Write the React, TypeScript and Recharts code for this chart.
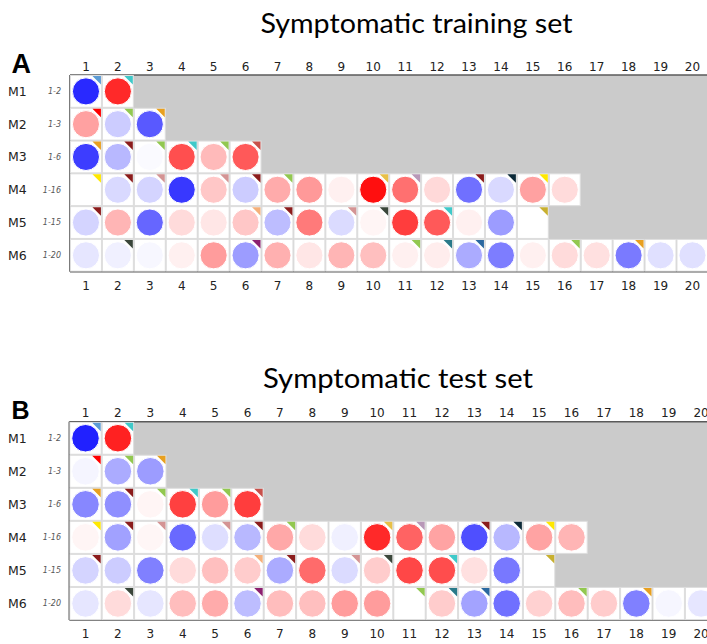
import React from 'react';
import { ScatterChart, Scatter, XAxis, YAxis, CartesianGrid } from 'recharts';

// ---------- categories / ticks ----------
const colTicks = [1, 2, 3, 4, 5, 6, 7, 8, 9, 10, 11, 12, 13, 14, 15, 16, 17, 18, 19, 20];
const rowTicks = [1, 2, 3, 4, 5, 6];
const rowNames = ['M1', 'M2', 'M3', 'M4', 'M5', 'M6'];
const rowRanges = ['1-2', '1-3', '1-6', '1-16', '1-15', '1-20'];

// ---------- values (positive = red, negative = blue) : training set ----------
const trainM1 = [-0.84, 0.84];
const trainM2 = [0.37, -0.2, -0.65];
const trainM3 = [-0.76, -0.28, -0.02, 0.69, 0.27, 0.65];
const trainM4 = [0, -0.15, -0.17, -0.78, 0.22, -0.2, 0.33, 0.4, 0.06, 0.94, 0.56, 0.15, -0.56, -0.15, 0.37, 0.14];
const trainM5 = [-0.17, 0.29, -0.6, 0.14, 0.1, 0.22, -0.26, 0.52, -0.14, 0.04, 0.76, 0.65, 0.06, -0.39, 0];
const trainM6 = [-0.1, -0.06, -0.03, 0.06, 0.39, -0.39, 0.31, 0.1, 0.29, 0.25, 0.06, 0.07, -0.33, -0.51, 0.06, 0.14, 0.12, -0.52, -0.12, -0.12];

// ---------- values : test set ----------
const testM1 = [-0.87, 0.87];
const testM2 = [-0.04, -0.33, -0.39];
const testM3 = [-0.47, -0.44, 0.04, 0.75, 0.39, 0.76];
const testM4 = [0.04, -0.37, 0.035, -0.59, -0.13, -0.28, 0.34, 0.14, -0.06, 0.84, 0.61, 0.36, -0.69, -0.28, 0.36, 0.29];
const testM5 = [-0.17, -0.2, -0.5, 0.14, 0.25, 0.2, -0.33, 0.58, -0.14, 0.2, 0.72, 0.7, 0.12, -0.53, 0];
const testM6 = [-0.1, 0.14, -0.1, 0.26, 0.33, -0.26, 0.26, 0.25, 0.39, 0.39, 0, 0.2, -0.36, -0.56, 0.18, 0.26, 0.2, -0.5, -0.035, -0.1];

// ---------- corner markers (shared by both sets) ----------
const markM1 = ['lb', 'cy'];
const markM2 = ['r', 'g', 'o'];
const markM3 = ['o', 'dr', 'g', 'cy', 'g', 'ir'];
const markM4 = ['y', 'dr', 'ro', '', 'ro', 'dr', 'g', '', '', 'go', 'mv', '', 'dr', 'nv', 'y', ''];
const markM5 = ['dr', '', '', '', '', 'lo', 'dr', '', 'ro', 'dg', '', 'cy', '', '', 'ol'];
const markM6 = ['', 'dg', '', '', '', 'pu', '', '', '', '', 'g', 'tl', 'sb', '', '', 'g', '', 'o', '', ''];

const markColors: Record<string, string> = {
  lb: '#5b9bd5',
  cy: '#3fc9c9',
  r: '#ff0000',
  g: '#92c850',
  o: '#e8a020',
  dr: '#8b1c1c',
  ir: '#c8504a',
  y: '#ffe800',
  ro: '#d49494',
  go: '#e8c048',
  mv: '#b898b8',
  nv: '#0c2a38',
  lo: '#f5b07a',
  dg: '#3a463a',
  ol: '#c8b030',
  pu: '#8c2070',
  tl: '#2a7a8a',
  sb: '#2a68a0',
};

const trainRows = [trainM1, trainM2, trainM3, trainM4, trainM5, trainM6];
const testRows = [testM1, testM2, testM3, testM4, testM5, testM6];
const markRows = [markM1, markM2, markM3, markM4, markM5, markM6];

const colorOf = (v: number) => {
  const t = Math.round(255 * (1 - Math.min(1, Math.abs(v))));
  return v >= 0 ? `rgb(255,${t},${t})` : `rgb(${t},${t},255)`;
};

const buildData = (rows: number[][]) =>
  rows.flatMap((vals, ri) =>
    vals.map((v, ci) => ({ x: colTicks[ci], y: rowTicks[ri], v, mark: markRows[ri][ci] || '' }))
  );

const makeShape = (cw: number, ch: number) => (props: any) => {
  const { cx, cy, payload } = props;
  if (cx == null || cy == null) return <g />;
  const left = cx - cw / 2;
  const top = cy - ch / 2;
  const right = cx + cw / 2;
  const r = 0.425 * Math.min(cw, ch);
  const leg = 8.5;
  const mc = payload.mark ? markColors[payload.mark] : null;
  return (
    <g>
      <rect x={left + 0.5} y={top + 0.5} width={cw - 1} height={ch - 1} fill="#ffffff" stroke="#dedede" strokeWidth={1} />
      {mc && (
        <path d={`M${right - 1 - leg},${top + 1} L${right - 1},${top + 1} L${right - 1},${top + 1 + leg} Z`} fill={mc} />
      )}
      <circle cx={cx} cy={cy} r={r} fill={colorOf(payload.v)} stroke="#ffffff" strokeWidth={1} />
    </g>
  );
};

type PanelCfg = {
  top: number;
  width: number;
  height: number;
  marginTop: number;
  marginRight: number;
  marginBottom: number;
  yAxisWidth: number;
  topAxisH: number;
  bottomAxisH: number;
  topOffset: number;
  bottomOffset: number;
};

const RowTick = (props: any) => {
  const { y, payload } = props;
  const idx = rowTicks.indexOf(payload.value);
  return (
    <g>
      <text x={8} y={y} dy="0.36em" fontFamily="DejaVu Sans" fontSize={12.5} fill="#222">
        {rowNames[idx]}
      </text>
      <text x={61} y={y} dy="0.36em" textAnchor="end" fontFamily="DejaVu Sans" fontStyle="italic" fontSize={8} fill="#555">
        {rowRanges[idx]}
      </text>
    </g>
  );
};

const Panel = ({ rows, cfg }: { rows: number[][]; cfg: PanelCfg }) => {
  const plotW = cfg.width - cfg.yAxisWidth - cfg.marginRight;
  const plotH = cfg.height - cfg.marginTop - cfg.marginBottom - cfg.topAxisH - cfg.bottomAxisH;
  const cw = plotW / colTicks.length;
  const ch = plotH / rowTicks.length;
  const data = buildData(rows);
  const tickStyle = { fontSize: 12, fill: '#222', fontFamily: 'DejaVu Sans' };
  return (
    <div style={{ position: 'absolute', left: 0, top: cfg.top }}>
      <ScatterChart
        width={cfg.width}
        height={cfg.height}
        margin={{ top: cfg.marginTop, right: cfg.marginRight, bottom: cfg.marginBottom, left: 0 }}
      >
        <CartesianGrid fill="#cbcbcb" stroke="none" horizontal={false} vertical={false} />
        <XAxis
          type="number"
          dataKey="x"
          domain={[0.5, 20.5]}
          ticks={colTicks}
          interval={0}
          orientation="bottom"
          height={cfg.bottomAxisH}
          tickLine={false}
          tickSize={0}
          tickMargin={cfg.bottomOffset}
          axisLine={{ stroke: '#5a5a5a', strokeWidth: 1.6 }}
          tick={tickStyle}
          allowDataOverflow
        />
        <XAxis
          xAxisId="top"
          type="number"
          dataKey="x"
          domain={[0.5, 20.5]}
          ticks={colTicks}
          interval={0}
          orientation="top"
          height={cfg.topAxisH}
          tickLine={false}
          tickSize={0}
          tickMargin={cfg.topOffset}
          axisLine={{ stroke: '#5a5a5a', strokeWidth: 1.6 }}
          tick={tickStyle}
          allowDataOverflow
        />
        <YAxis
          type="number"
          dataKey="y"
          domain={[0.5, 6.5]}
          ticks={rowTicks}
          interval={0}
          reversed
          width={cfg.yAxisWidth}
          tickLine={false}
          axisLine={{ stroke: '#5a5a5a', strokeWidth: 1.6 }}
          tick={<RowTick />}
          allowDataOverflow
        />
        <Scatter data={data} shape={makeShape(cw, ch)} isAnimationActive={false} />
        <Scatter xAxisId="top" data={data} shape={() => <g />} isAnimationActive={false} />
      </ScatterChart>
    </div>
  );
};

const cfgTrain: PanelCfg = {
  top: 0,
  width: 730,
  height: 310,
  marginTop: 50,
  marginRight: 21.6,
  marginBottom: 8.3,
  yAxisWidth: 70,
  topAxisH: 25,
  bottomAxisH: 30,
  topOffset: 4.3,
  bottomOffset: 10.2,
};

const cfgTest: PanelCfg = {
  top: 350,
  width: 740,
  height: 294,
  marginTop: 46.7,
  marginRight: 22.7,
  marginBottom: 0,
  yAxisWidth: 69.3,
  topAxisH: 25,
  bottomAxisH: 24,
  topOffset: 4.8,
  bottomOffset: 9.9,
};

export default function App() {
  return (
    <div
      style={{
        position: 'absolute',
        left: 0,
        top: 0,
        width: 707,
        height: 644,
        overflow: 'hidden',
        background: '#ffffff',
      }}
    >
      <Panel rows={trainRows} cfg={cfgTrain} />
      <Panel rows={testRows} cfg={cfgTest} />
      <svg width={707} height={644} style={{ position: 'absolute', left: 0, top: 0, pointerEvents: 'none' }}>
        <text x={260.5} y={32.5} fontFamily="Lato" fontSize={27} fill="#000" textLength={312} lengthAdjust="spacingAndGlyphs">
          Symptomatic training set
        </text>
        <text x={263} y={387.5} fontFamily="Lato" fontSize={27} fill="#000" textLength={270} lengthAdjust="spacingAndGlyphs">
          Symptomatic test set
        </text>
        <text x={11.5} y={73} fontFamily="Liberation Sans" fontWeight="bold" fontSize={27} fill="#000">
          A
        </text>
        <text x={11.5} y={419.3} fontFamily="Liberation Sans" fontWeight="bold" fontSize={25} fill="#000">
          B
        </text>
      </svg>
    </div>
  );
}
